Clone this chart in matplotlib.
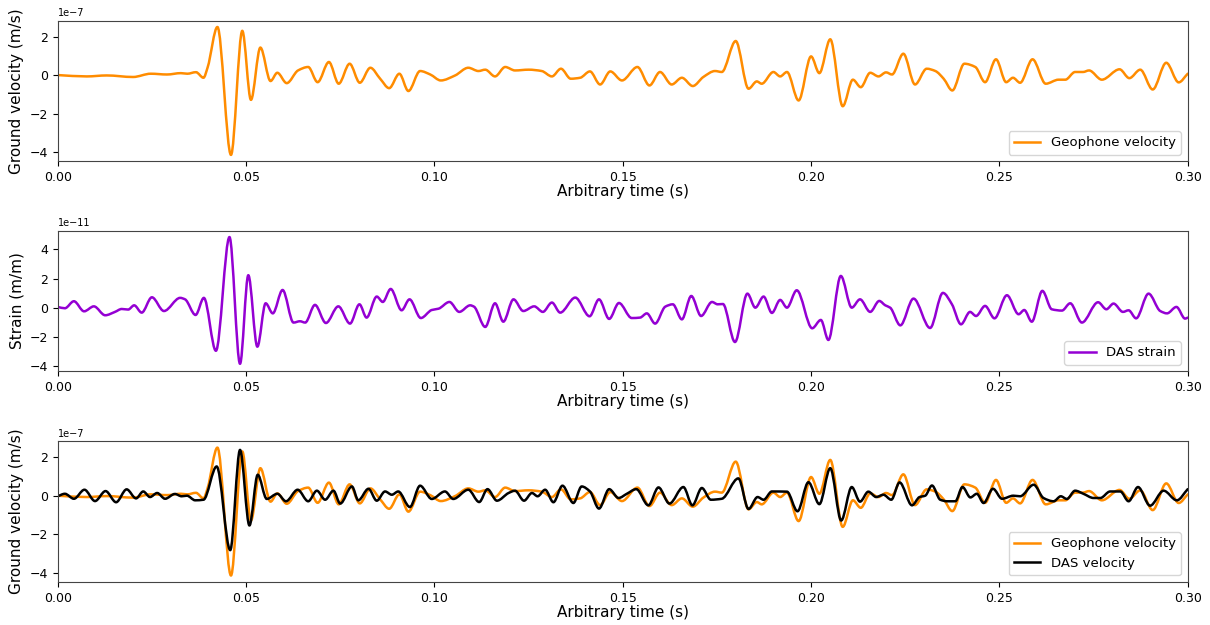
import numpy as np
import matplotlib
matplotlib.use("Agg")
import matplotlib.pyplot as plt
from matplotlib.path import Path
from matplotlib.patches import PathPatch
from matplotlib.ticker import FormatStrFormatter

# geophone trace: turning points (time in s, velocity in 1e-7 m/s)
geo_t = [0.0, 0.0077, 0.013, 0.020, 0.0247, 0.029, 0.0327, 0.0344, 0.0367, 0.0387,
         0.0398, 0.0424, 0.046, 0.049, 0.0513, 0.0538, 0.0565, 0.0583, 0.0608, 0.0638,
         0.0665, 0.069, 0.072, 0.0746, 0.0775, 0.0802, 0.083, 0.0856, 0.088, 0.0907,
         0.0931, 0.0962, 0.0989, 0.1017, 0.1055, 0.109, 0.1117, 0.1135, 0.1161, 0.1188,
         0.1214, 0.125, 0.1285, 0.1312, 0.1336, 0.1362, 0.1387, 0.1413, 0.144, 0.1467,
         0.1498, 0.1539, 0.1571, 0.1599, 0.163, 0.1657, 0.1686, 0.1714, 0.1745, 0.1763,
         0.18, 0.1834, 0.1856, 0.1869, 0.19, 0.1918, 0.1936, 0.1967, 0.2, 0.2022,
         0.2051, 0.2084, 0.2111, 0.2132, 0.2157, 0.2179, 0.2199, 0.2215, 0.2245, 0.2276,
         0.2307, 0.233, 0.2352, 0.2375, 0.2407, 0.2436, 0.2462, 0.2491, 0.2518, 0.2536,
         0.2555, 0.2588, 0.2623, 0.2657, 0.2675, 0.2701, 0.2722, 0.2738, 0.2772, 0.2819,
         0.2845, 0.2874, 0.2907, 0.2943, 0.2976, 0.3]
geo_v = [0.0, -0.07, -0.02, -0.1, 0.07, 0.03, 0.1, 0.07, 0.15, -0.14,
         0.4, 2.5, -4.15, 2.3, -1.29, 1.43, -0.31, 0.12, -0.42, 0.24,
         0.42, -0.37, 0.68, -0.45, 0.59, -0.4, 0.38, -0.19, -0.68, 0.07,
         -0.83, 0.21, 0.03, -0.28, -0.02, 0.38, 0.21, 0.28, -0.07, 0.42,
         0.24, 0.28, 0.21, -0.07, 0.33, -0.19, -0.14, 0.19, -0.49, 0.19,
         -0.28, 0.42, -0.54, 0.16, -0.49, -0.14, -0.57, -0.1, 0.21, 0.16,
         1.77, -0.71, -0.33, -0.45, 0.16, -0.07, 0.16, -1.32, 0.97, 0.1,
         1.86, -1.62, -0.24, -0.63, 0.12, -0.07, 0.14, 0.03, 1.11, -0.49,
         0.33, 0.21, -0.19, -0.8, 0.59, 0.42, -0.37, 0.82, -0.37, -0.14,
         -0.4, 0.82, -0.45, -0.24, -0.24, 0.16, 0.16, 0.24, -0.24, 0.3,
         -0.16, 0.28, -0.75, 0.64, -0.38, 0.07]

# DAS strain (1e-11 m/m)
das_t = [0.0, 0.0019, 0.0043, 0.007, 0.0096, 0.0126, 0.0152, 0.017, 0.0187, 0.0203,
         0.0223, 0.025, 0.0282, 0.0325, 0.0338, 0.0366, 0.0388, 0.042, 0.0456, 0.0484,
         0.0506, 0.053, 0.0552, 0.0571, 0.0597, 0.0626, 0.0643, 0.0657, 0.0683, 0.0712,
         0.0745, 0.0776, 0.0801, 0.082, 0.0847, 0.0863, 0.0884, 0.0913, 0.0934, 0.0964,
         0.0993, 0.1011, 0.104, 0.1066, 0.1095, 0.1105, 0.1135, 0.1161, 0.1183, 0.121,
         0.1236, 0.1265, 0.1288, 0.1312, 0.1334, 0.1374, 0.1412, 0.1437, 0.1464, 0.149,
         0.1524, 0.1546, 0.1564, 0.1586, 0.1613, 0.1633, 0.1657, 0.1682, 0.1708, 0.1737,
         0.1752, 0.1766, 0.1798, 0.1831, 0.1852, 0.1874, 0.1896, 0.1918, 0.1936, 0.1962,
         0.2003, 0.2026, 0.2046, 0.2079, 0.2108, 0.213, 0.2157, 0.2181, 0.2197, 0.221,
         0.2237, 0.2272, 0.2316, 0.235, 0.2374, 0.2398, 0.2422, 0.2438, 0.2462, 0.2487,
         0.252, 0.2551, 0.2566, 0.2586, 0.2614, 0.2639, 0.2666, 0.2688, 0.2719, 0.2762,
         0.2784, 0.2803, 0.2828, 0.2843, 0.2863, 0.2896, 0.2927, 0.2945, 0.297, 0.2993,
         0.3]
das_v = [0.07, -0.02, 0.46, -0.23, 0.11, -0.5, -0.27, -0.07, -0.11, 0.18,
         -0.32, 0.73, -0.21, 0.69, 0.59, -0.48, 0.69, -2.93, 4.85, -3.82,
         2.24, -2.65, 0.32, -0.37, 1.23, -1.0, -0.91, -1.0, 0.21, -1.03,
         0.11, -1.07, 0.25, -0.66, 0.78, 0.41, 1.3, -0.16, 0.59, -0.69,
         -0.14, -0.05, 0.41, -0.27, 0.18, 0.09, -1.3, 0.32, -0.94, 0.59,
         -0.21, 0.11, -0.27, 0.37, -0.32, 0.71, -0.57, 0.59, -0.75, 0.34,
         -0.69, -0.66, -0.37, -1.07, 0.09, 0.25, -0.78, 0.82, -0.55, 0.41,
         0.25, 0.27, -2.33, 0.98, 0.02, 0.78, -0.34, 0.55, 0.02, 1.21,
         -1.39, -0.82, -2.19, 2.19, 0.02, 0.59, -0.27, 0.48, 0.18, 0.02,
         -1.19, 0.64, -1.37, 1.03, 0.25, -1.12, -0.27, -0.55, 0.14, -0.71,
         0.87, -0.43, -0.14, -0.94, 1.17, -0.09, -0.18, 0.32, -1.0, 0.39,
         -0.09, 0.3, -0.27, -0.16, -0.71, 0.98, -0.21, -0.37, 0.07, -0.73,
         -0.66]

# velocity converted from DAS strain (1e-7 m/s)
dasvel_t = [0.0, 0.0019, 0.0043, 0.0071, 0.0099, 0.0127, 0.0155, 0.0183, 0.0208, 0.0227,
            0.0245, 0.0264, 0.0285, 0.0311, 0.0329, 0.0343, 0.0365, 0.0387, 0.0422, 0.0458,
            0.0484, 0.0509, 0.0531, 0.0555, 0.0583, 0.0606, 0.0637, 0.0665, 0.0688, 0.071,
            0.0732, 0.075, 0.0781, 0.0798, 0.0825, 0.0847, 0.0869, 0.0887, 0.0904, 0.0935,
            0.0962, 0.0993, 0.1028, 0.105, 0.109, 0.1119, 0.1141, 0.1166, 0.1197, 0.1214,
            0.1238, 0.1259, 0.1274, 0.1294, 0.1316, 0.134, 0.1369, 0.1391, 0.1413, 0.1437,
            0.1464, 0.1489, 0.1511, 0.1536, 0.1568, 0.1595, 0.1624, 0.1661, 0.1685, 0.171,
            0.1734, 0.1763, 0.1807, 0.1834, 0.1858, 0.1874, 0.1896, 0.1936, 0.1964, 0.1993,
            0.2022, 0.2051, 0.208, 0.2108, 0.213, 0.2152, 0.2173, 0.2192, 0.2213, 0.2235,
            0.2268, 0.2288, 0.2303, 0.2321, 0.2343, 0.2361, 0.2383, 0.2402, 0.2423, 0.244,
            0.2458, 0.2483, 0.2507, 0.2537, 0.2555, 0.2591, 0.2617, 0.2644, 0.2663, 0.2679,
            0.2701, 0.2723, 0.275, 0.2768, 0.2794, 0.2821, 0.2843, 0.2868, 0.29, 0.2936,
            0.2971, 0.3]
dasvel_v = [-0.03, 0.1, -0.16, 0.31, -0.28, 0.24, -0.34, 0.33, -0.14, 0.22,
            -0.07, 0.14, -0.16, 0.09, -0.03, 0.0, -0.24, -0.21, 1.52, -2.83,
            2.38, -1.55, 1.09, -0.17, 0.1, -0.29, 0.31, -0.29, 0.26, -0.21,
            0.26, -0.41, 0.48, -0.24, 0.36, -0.26, 0.22, 0.05, 0.22, -0.59,
            0.52, -0.17, 0.22, -0.17, 0.31, -0.33, 0.34, -0.26, 0.14, 0.26,
            -0.26, 0.14, -0.03, 0.31, -0.34, 0.52, -0.38, 0.48, 0.22, -0.67,
            0.34, -0.12, 0.1, 0.34, -0.5, 0.43, -0.41, 0.45, -0.5, 0.4,
            -0.21, -0.16, 0.9, -0.69, -0.07, -0.21, 0.22, 0.21, -0.81, 0.7,
            -0.44, 1.43, -1.29, 0.45, -0.31, 0.21, -0.07, 0.05, -0.21, 0.69,
            -0.5, -0.07, 0.0, 0.53, -0.21, -0.29, -0.29, 0.45, -0.09, 0.1,
            -0.38, 0.36, -0.16, 0.0, -0.03, 0.57, -0.12, -0.29, -0.03, -0.17,
            0.26, 0.1, -0.12, -0.12, 0.22, 0.22, -0.29, 0.45, -0.52, 0.26,
            -0.24, 0.34]

ORANGE = "#ff8c00"
PURPLE = "#9400d3"
LW = 1.8


def trace_path(t, v, scale):
    """Bezier path through the turning points, flat tangents at peaks/troughs."""
    x = np.asarray(t, float)
    y = np.asarray(v, float) * scale
    h = np.diff(x)
    d = np.diff(y) / h
    m = np.zeros_like(y)
    m[0], m[-1] = d[0], d[-1]
    for k in range(1, len(y) - 1):
        if d[k - 1] * d[k] > 0:
            w1 = 2 * h[k] + h[k - 1]
            w2 = h[k] + 2 * h[k - 1]
            m[k] = (w1 + w2) / (w1 / d[k - 1] + w2 / d[k])
    verts = [(x[0], y[0])]
    codes = [Path.MOVETO]
    for k in range(len(x) - 1):
        verts += [(x[k] + h[k] / 3, y[k] + m[k] * h[k] / 3),
                  (x[k + 1] - h[k] / 3, y[k + 1] - m[k + 1] * h[k] / 3),
                  (x[k + 1], y[k + 1])]
        codes += [Path.CURVE4] * 3
    return Path(verts, codes)


def add_trace(ax, t, v, scale, color, label):
    ax.add_patch(PathPatch(trace_path(t, v, scale), fill=False, edgecolor=color,
                           lw=LW, capstyle="round", joinstyle="round"))
    ax.plot([], [], color=color, lw=LW, label=label)


fig = plt.figure(figsize=(12.1, 6.25), dpi=100)
left, width, height = 0.0477, 0.9339, 0.225
ax1 = fig.add_axes([left, 0.742, width, height])
ax2 = fig.add_axes([left, 0.406, width, height])
ax3 = fig.add_axes([left, 0.069, width, height])

add_trace(ax1, geo_t, geo_v, 1e-7, ORANGE, "Geophone velocity")
ax1.set_ylabel("Ground velocity (m/s)")
ax1.set_ylim(-4.48e-7, 2.83e-7)
ax1.set_yticks([-4e-7, -2e-7, 0, 2e-7])

add_trace(ax2, das_t, das_v, 1e-11, PURPLE, "DAS strain")
ax2.set_ylabel("Strain (m/m)")
ax2.set_ylim(-4.33e-11, 5.29e-11)
ax2.set_yticks([-4e-11, -2e-11, 0, 2e-11, 4e-11])

add_trace(ax3, geo_t, geo_v, 1e-7, ORANGE, "Geophone velocity")
add_trace(ax3, dasvel_t, dasvel_v, 1e-7, "black", "DAS velocity")
ax3.set_ylabel("Ground velocity (m/s)")
ax3.set_ylim(-4.48e-7, 2.83e-7)
ax3.set_yticks([-4e-7, -2e-7, 0, 2e-7])

for ax in (ax1, ax2, ax3):
    ax.set_xlim(0, 0.3)
    ax.set_xticks(np.arange(0, 0.301, 0.05))
    ax.xaxis.set_major_formatter(FormatStrFormatter("%.2f"))
    ax.set_xlabel("Arbitrary time (s)", fontsize=11, labelpad=0)
    ax.yaxis.label.set_fontsize(11)
    ax.yaxis.set_label_coords(-0.0298, 0.5)
    ax.tick_params(labelsize=9)
    ax.yaxis.get_offset_text().set_fontsize(7)
    ax.legend(loc="lower right", fontsize=9.5)
    for s in ax.spines.values():
        s.set_color("#444444")

fig.savefig("out.png", dpi=100)
